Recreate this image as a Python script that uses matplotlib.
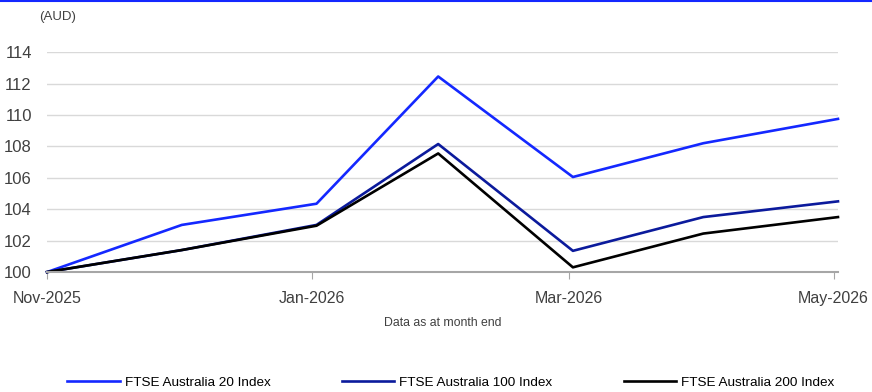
import pandas as pd
import matplotlib.pyplot as plt
from matplotlib.lines import Line2D

plt.rcParams['font.family'] = ['Liberation Sans', 'DejaVu Sans']

# month-end data points
dates = pd.to_datetime(["2025-11-30", "2025-12-31", "2026-01-31", "2026-02-28",
                        "2026-03-31", "2026-04-30", "2026-05-31"])
ftse20 = [100.0, 103.0, 104.35, 112.45, 106.05, 108.2, 109.75]
ftse100 = [100.0, 101.4, 103.0, 108.15, 101.35, 103.5, 104.5]
ftse200 = [100.0, 101.4, 102.95, 107.55, 100.3, 102.45, 103.5]
tick_dates = pd.to_datetime(["2025-11-30", "2026-01-30", "2026-03-30", "2026-05-30"])
tick_labels = ["Nov-2025", "Jan-2026", "Mar-2026", "May-2026"]
yticks = [100, 102, 104, 106, 108, 110, 112, 114]

fig = plt.figure(figsize=(8.72, 3.92), dpi=100)
ax = fig.add_axes([0.054, 0.306, 0.907, 0.561])

ax.plot(dates, ftse20, color="#1428ff", lw=1.9, label="FTSE Australia 20 Index", clip_on=False)
ax.plot(dates, ftse100, color="#0b1a9c", lw=1.9, label="FTSE Australia 100 Index", clip_on=False)
ax.plot(dates, ftse200, color="#000000", lw=1.9, label="FTSE Australia 200 Index", clip_on=False)

ax.set_ylim(100, 114)
ax.set_xlim(dates[0], dates[-1])
ax.set_yticks(yticks)
ax.set_xticks(tick_dates)
ax.set_xticklabels(tick_labels)
ax.grid(axis="y", color="#d9d9d9", lw=1)
ax.set_axisbelow(True)
for s in ["top", "right", "left"]:
    ax.spines[s].set_visible(False)
ax.spines["bottom"].set_color("#a6a6a6")
ax.spines["bottom"].set_linewidth(1.5)
ax.tick_params(axis="y", length=0, labelsize=12, labelcolor="#404040", pad=11)
ax.tick_params(axis="x", length=5, color="#a6a6a6", labelsize=11.5, labelcolor="#404040", pad=9)

fig.text(0.045, 0.957, "(AUD)", fontsize=9.5, color="#404040", va="center")
fig.text(0.508, 0.175, "Data as at month end", fontsize=8.8, color="#404040", ha="center", va="center")

# blue rule at the top
fig.add_artist(Line2D([0, 1], [0.997, 0.997], color="#1428ff", lw=1.5))

fig.legend(loc="center", bbox_to_anchor=(0.517, 0.023), ncol=3, frameon=False,
           fontsize=9.7, handlelength=3.9, handletextpad=0.37, columnspacing=5.3)

fig.savefig("out.png", dpi=100)
